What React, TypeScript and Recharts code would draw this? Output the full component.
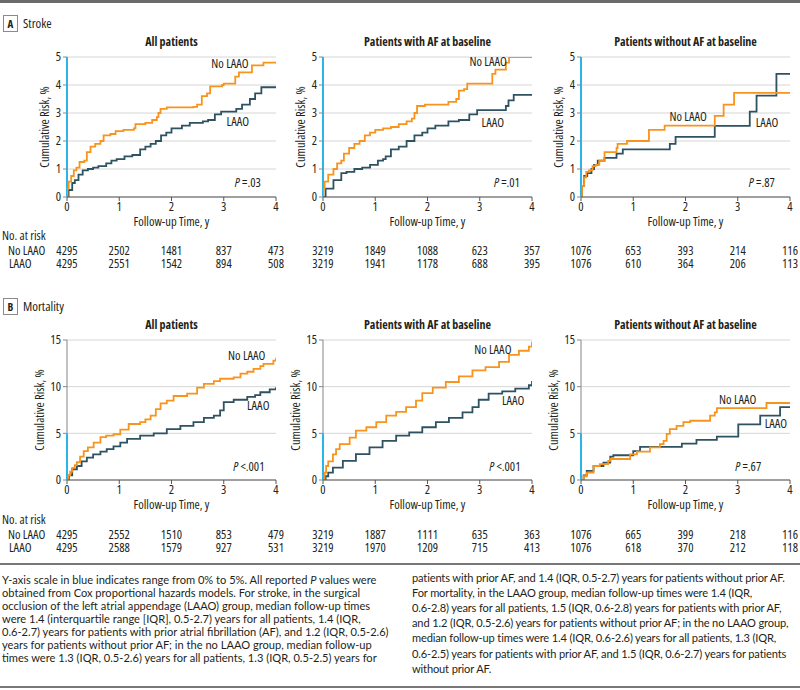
import React from "react";
import { LineChart, Line, XAxis, YAxis, CartesianGrid, ReferenceLine, ReferenceDot } from "recharts";

// ─── Colors / fonts ──────────────────────────────────────────────────────────
const ORANGE = "#f7941d"; // No LAAO
const SLATE = "#2d5261"; // LAAO
const BLUE = "#2ab4e8"; // 0-5% y-axis segment
const INK = "#231f20";
const FONT = "'Open Sans', 'DejaVu Sans Condensed', sans-serif";
const CAPTION_FONT = "Lato, 'Open Sans', sans-serif";
const FS = 12.5; // chart text size

// ─── Data (time in years, cumulative risk in %) ──────────────────────────────
type Pt = [number, number];

const xTicks = [0, 1, 2, 3, 4];
const strokeTicks = [0, 1, 2, 3, 4, 5];
const mortalityTicks = [0, 5, 10, 15];

const strokeAllNo: Pt[] = [[0, 0], [0.01, 0.3], [0.03, 0.55], [0.08, 0.75], [0.13, 0.95], [0.18, 1.05], [0.24, 1.25], [0.33, 1.3], [0.38, 1.6], [0.45, 1.8], [0.54, 1.9], [0.64, 2.0], [0.7, 2.2], [0.83, 2.25], [0.93, 2.35], [1.08, 2.4], [1.28, 2.45], [1.31, 2.6], [1.5, 2.65], [1.63, 2.75], [1.72, 2.85], [1.75, 3.0], [1.79, 3.15], [1.91, 3.2], [2.42, 3.22], [2.49, 3.3], [2.58, 3.6], [2.68, 3.7], [2.74, 3.95], [2.97, 4.0], [3.0, 4.05], [3.22, 4.3], [3.29, 4.45], [3.54, 4.7], [3.76, 4.8], [4, 4.8]];
const strokeAllLaao: Pt[] = [[0, 0], [0.03, 0.25], [0.1, 0.5], [0.15, 0.6], [0.22, 0.8], [0.3, 0.95], [0.4, 1.0], [0.5, 1.05], [0.6, 1.1], [0.75, 1.2], [0.85, 1.3], [0.95, 1.35], [1.1, 1.45], [1.25, 1.5], [1.4, 1.7], [1.5, 1.8], [1.6, 1.9], [1.7, 2.0], [1.8, 2.2], [1.9, 2.3], [2.0, 2.45], [2.2, 2.55], [2.35, 2.65], [2.6, 2.7], [2.7, 2.75], [2.83, 2.95], [2.95, 3.05], [3.24, 3.15], [3.35, 3.3], [3.5, 3.5], [3.6, 3.7], [3.72, 3.92], [4, 3.92]];

const strokeAfNo: Pt[] = [[0, 0], [0.01, 0.3], [0.03, 0.55], [0.1, 0.8], [0.2, 1.0], [0.27, 1.2], [0.35, 1.3], [0.4, 1.55], [0.5, 1.75], [0.6, 1.9], [0.7, 2.0], [0.8, 2.2], [0.9, 2.3], [1.0, 2.4], [1.15, 2.45], [1.3, 2.5], [1.45, 2.6], [1.6, 2.7], [1.7, 2.8], [1.75, 3.0], [1.8, 3.25], [1.95, 3.3], [2.4, 3.4], [2.55, 3.5], [2.6, 3.8], [2.7, 3.85], [2.76, 4.05], [3.24, 4.4], [3.3, 4.55], [3.5, 4.8], [3.56, 5.0], [4, 5.0]];
const strokeAfLaao: Pt[] = [[0, 0], [0.05, 0.3], [0.2, 0.6], [0.35, 0.85], [0.45, 0.9], [0.6, 1.0], [0.75, 1.05], [0.9, 1.15], [1.05, 1.3], [1.15, 1.35], [1.2, 1.45], [1.3, 1.7], [1.45, 1.8], [1.6, 2.0], [1.75, 2.2], [1.9, 2.3], [2.0, 2.45], [2.15, 2.55], [2.4, 2.7], [2.6, 2.75], [2.8, 2.95], [2.95, 3.1], [3.5, 3.25], [3.55, 3.45], [3.65, 3.65], [4, 3.65]];

const strokeNoAfNo: Pt[] = [[0, 0], [0.02, 0.4], [0.06, 0.7], [0.1, 0.9], [0.15, 0.95], [0.22, 1.1], [0.28, 1.15], [0.35, 1.3], [0.45, 1.6], [0.68, 1.75], [0.7, 1.9], [0.88, 2.0], [1.3, 2.4], [1.6, 2.55], [2.56, 2.9], [2.73, 3.3], [2.93, 3.72], [4, 3.72]];
const strokeNoAfLaao: Pt[] = [[0, 0], [0.02, 0.4], [0.06, 0.75], [0.12, 0.85], [0.2, 1.0], [0.25, 1.15], [0.32, 1.3], [0.45, 1.4], [0.68, 1.55], [0.8, 1.7], [1.7, 1.9], [1.81, 2.15], [2.56, 2.54], [3.23, 3.05], [3.36, 3.62], [3.74, 4.4], [4, 4.4]];

const mortAllNo: Pt[] = [[0, 0], [0.03, 0.5], [0.06, 0.9], [0.1, 1.3], [0.15, 1.6], [0.19, 1.9], [0.25, 2.5], [0.32, 3.1], [0.4, 3.5], [0.51, 4.0], [0.64, 4.6], [0.75, 4.75], [0.89, 4.9], [1.02, 5.4], [1.18, 6.0], [1.4, 6.2], [1.5, 6.5], [1.6, 6.9], [1.7, 7.6], [1.79, 8.2], [1.91, 8.5], [2.04, 9.0], [2.3, 9.25], [2.49, 9.9], [2.62, 10.3], [2.81, 10.6], [2.93, 10.85], [3.19, 11.0], [3.32, 11.4], [3.45, 11.6], [3.57, 11.9], [3.7, 12.2], [3.76, 12.45], [3.95, 12.8], [4.0, 13.1]];
const mortAllLaao: Pt[] = [[0, 0], [0.04, 0.5], [0.1, 1.15], [0.19, 1.5], [0.28, 2.0], [0.38, 2.4], [0.5, 2.75], [0.64, 3.05], [0.76, 3.3], [0.89, 3.6], [1.02, 4.0], [1.15, 4.4], [1.4, 4.75], [1.66, 5.0], [1.91, 5.45], [2.17, 5.8], [2.42, 6.2], [2.62, 6.65], [2.81, 6.9], [2.93, 7.45], [3.0, 8.35], [3.19, 8.6], [3.45, 8.9], [3.6, 9.1], [3.7, 9.4], [3.88, 9.7], [4.0, 9.95]];

const mortAfNo: Pt[] = [[0, 0], [0.03, 0.8], [0.06, 1.5], [0.1, 2.0], [0.19, 2.75], [0.25, 3.3], [0.32, 3.85], [0.51, 4.55], [0.63, 5.3], [0.83, 5.65], [1.02, 6.2], [1.21, 6.9], [1.4, 7.3], [1.59, 7.8], [1.78, 8.5], [1.9, 9.3], [2.1, 9.9], [2.35, 10.5], [2.6, 11.1], [2.86, 11.75], [3.11, 12.1], [3.37, 12.65], [3.56, 13.4], [3.75, 13.85], [3.94, 14.3], [4.0, 14.8]];
const mortAfLaao: Pt[] = [[0, 0], [0.05, 0.4], [0.1, 0.8], [0.19, 1.33], [0.38, 2.05], [0.63, 2.77], [0.89, 3.5], [1.14, 4.2], [1.4, 4.75], [1.65, 5.1], [1.9, 5.65], [2.16, 6.2], [2.41, 6.65], [2.67, 7.25], [2.86, 7.8], [2.98, 8.6], [3.17, 9.25], [3.43, 9.5], [3.68, 9.8], [3.94, 10.15], [4.0, 10.6]];

const mortNoAfNo: Pt[] = [[0, 0], [0.05, 0.4], [0.11, 0.8], [0.24, 1.5], [0.36, 1.7], [0.52, 2.05], [0.56, 2.25], [0.94, 2.75], [1.07, 3.05], [1.32, 3.5], [1.51, 3.85], [1.58, 4.2], [1.64, 4.95], [1.7, 5.45], [1.83, 5.8], [1.96, 6.2], [2.09, 6.35], [2.47, 6.9], [2.56, 7.25], [2.6, 7.7], [3.55, 8.25], [4, 8.25]];
const mortNoAfLaao: Pt[] = [[0, 0], [0.05, 0.5], [0.11, 0.97], [0.24, 1.5], [0.43, 1.87], [0.56, 2.5], [0.62, 2.65], [1.0, 3.1], [1.13, 3.55], [1.93, 3.9], [2.21, 4.3], [2.6, 4.65], [3.01, 5.95], [3.43, 6.9], [3.81, 7.8], [4, 7.8]];

// No. at risk (No LAAO row, LAAO row) at years 0..4
const riskStrokeAll = [[4295, 2502, 1481, 837, 473], [4295, 2551, 1542, 894, 508]];
const riskStrokeAf = [[3219, 1849, 1088, 623, 357], [3219, 1941, 1178, 688, 395]];
const riskStrokeNoAf = [[1076, 653, 393, 214, 116], [1076, 610, 364, 206, 113]];
const riskMortAll = [[4295, 2552, 1510, 853, 479], [4295, 2588, 1579, 927, 531]];
const riskMortAf = [[3219, 1887, 1111, 635, 363], [3219, 1970, 1209, 715, 413]];
const riskMortNoAf = [[1076, 665, 399, 218, 116], [1076, 618, 370, 212, 118]];

const titles = ["All patients", "Patients with AF at baseline", "Patients without AF at baseline"];
const strokeP = ["=.03", "=.01", "=.87"];
const mortP = ["<.001", "<.001", "=.67"];

// label anchors in data units [x, y]
const strokeNoLabel: Pt[] = [[3.12, 4.75], [3.16, 4.82], [2.05, 2.86]];
const strokeLaaoLabel: Pt[] = [[3.27, 2.68], [3.25, 2.64], [3.56, 2.64]];
const strokePPos: Pt[] = [[3.46, 0.5], [3.52, 0.5], [3.46, 0.5]];
const mortNoLabel: Pt[] = [[3.44, 13.3], [3.25, 14.0], [3.0, 8.6]];
const mortLaaoLabel: Pt[] = [[3.66, 8.0], [3.64, 8.5], [3.73, 6.0]];
const mortPPos: Pt[] = [[3.48, 1.4], [3.48, 1.4], [3.2, 1.4]];

const captionLeft = [
  "Y-axis scale in blue indicates range from 0% to 5%. All reported P values were",
  "obtained from Cox proportional hazards models. For stroke, in the surgical",
  "occlusion of the left atrial appendage (LAAO) group, median follow-up times",
  "were 1.4 (interquartile range [IQR], 0.5-2.7) years for all patients, 1.4 (IQR,",
  "0.6-2.7) years for patients with prior atrial fibrillation (AF), and 1.2 (IQR, 0.5-2.6)",
  "years for patients without prior AF; in the no LAAO group, median follow-up",
  "times were 1.3 (IQR, 0.5-2.6) years for all patients, 1.3 (IQR, 0.5-2.5) years for",
];
const captionRight = [
  "patients with prior AF, and 1.4 (IQR, 0.5-2.7) years for patients without prior AF.",
  "For mortality, in the LAAO group, median follow-up times were 1.4 (IQR,",
  "0.6-2.8) years for all patients, 1.5 (IQR, 0.6-2.8) years for patients with prior AF,",
  "and 1.2 (IQR, 0.5-2.6) years for patients without prior AF; in the no LAAO group,",
  "median follow-up times were 1.4 (IQR, 0.6-2.6) years for all patients, 1.3 (IQR,",
  "0.6-2.5) years for patients with prior AF, and 1.5 (IQR, 0.6-2.7) years for patients",
  "without prior AF.",
];

// ─── Layout ──────────────────────────────────────────────────────────────────
const PLOT_W = 209;
const PLOT_H = 140;
const Y_AXIS_W = 47;
const PANEL_X = [67, 323, 581];

const toRows = (pts: Pt[]) => pts.map(([t, v]) => ({ t, v }));

interface KMProps {
  left: number;
  top: number;
  title: string;
  ymax: number;
  yTicks: number[];
  noLaao: Pt[];
  laao: Pt[];
  noLabel: Pt;
  laaoLabel: Pt;
  pPos: Pt;
  pText: string;
  yLabelOffset: number;
}

function KMPanel({ left, top, title, ymax, yTicks, noLaao, laao, noLabel, laaoLabel, pPos, pText, yLabelOffset }: KMProps) {
  const mTop = 10;
  const xAxisH = 35;
  const textLabel = (value: string) => (props: any) => {
    const vb = props.viewBox || {};
    return (
      <text x={vb.x + (vb.width || 0) / 2} y={vb.y + (vb.height || 0) / 2} dy="0.35em" textAnchor="middle" fontSize={FS} fill={INK}>
        {value}
      </text>
    );
  };
  return (
    <>
      <div style={{ position: "absolute", left: left - 20, top: top - 22, width: PLOT_W + 40, textAlign: "center", fontWeight: "bold", fontSize: 12, lineHeight: "14px", color: INK, whiteSpace: "nowrap" }}>
        {title}
      </div>
      <div style={{ position: "absolute", left: left - Y_AXIS_W, top: top - mTop }}>
        <LineChart width={Y_AXIS_W + PLOT_W + 10} height={mTop + PLOT_H + xAxisH} margin={{ top: mTop, right: 10, left: 0, bottom: 0 }}>
          <CartesianGrid horizontal vertical={false} stroke="#d6d6d6" />
          <XAxis
            dataKey="t"
            type="number"
            domain={[0, 4]}
            ticks={xTicks}
            height={xAxisH}
            tickSize={4}
            tickMargin={1}
            stroke="#555"
            tick={{ fontSize: FS, fill: INK }}
            allowDataOverflow
            label={(props: any) => {
              const vb = props.viewBox;
              return (
                <text x={vb.x + vb.width / 2} y={vb.y + 29} textAnchor="middle" fontSize={FS} fill={INK}>
                  Follow-up Time, y
                </text>
              );
            }}
          />
          <YAxis
            type="number"
            domain={[0, ymax]}
            ticks={yTicks}
            width={Y_AXIS_W}
            axisLine={false}
            tickSize={4}
            tickMargin={2}
            stroke="#888"
            tick={{ fontSize: FS, fill: INK }}
            allowDataOverflow
            label={(props: any) => {
              const vb = props.viewBox;
              const x = vb.x + vb.width - yLabelOffset;
              const y = vb.y + vb.height / 2;
              return (
                <text x={x} y={y} transform={`rotate(-90 ${x} ${y})`} textAnchor="middle" dy="0.35em" fontSize={FS} fill={INK}>
                  Cumulative Risk, %
                </text>
              );
            }}
          />
          {ymax > 5 && (
            <ReferenceLine segment={[{ x: 0, y: 5 }, { x: 0, y: ymax }]} stroke="#999" strokeWidth={1.2} ifOverflow="visible" />
          )}
          <ReferenceLine segment={[{ x: 0, y: 0 }, { x: 0, y: 5 }]} stroke={BLUE} strokeWidth={2} ifOverflow="visible" />
          <Line data={toRows(laao)} dataKey="v" type="stepAfter" stroke={SLATE} strokeWidth={1.8} dot={false} isAnimationActive={false} />
          <Line data={toRows(noLaao)} dataKey="v" type="stepAfter" stroke={ORANGE} strokeWidth={1.8} dot={false} isAnimationActive={false} />
          <ReferenceDot x={noLabel[0]} y={noLabel[1]} r={0} stroke="none" fill="none" label={textLabel("No LAAO")} />
          <ReferenceDot x={laaoLabel[0]} y={laaoLabel[1]} r={0} stroke="none" fill="none" label={textLabel("LAAO")} />
          <ReferenceDot
            x={pPos[0]}
            y={pPos[1]}
            r={0}
            stroke="none"
            fill="none"
            label={(props: any) => {
              const vb = props.viewBox || {};
              return (
                <text x={vb.x + (vb.width || 0) / 2} y={vb.y + (vb.height || 0) / 2} dy="0.35em" textAnchor="middle" fontSize={FS} fill={INK}>
                  <tspan fontStyle="italic">P</tspan> {pText}
                </text>
              );
            }}
          />
        </LineChart>
      </div>
    </>
  );
}

function RiskTable({ top, rows }: { top: number; rows: number[][][] }) {
  const cell: React.CSSProperties = { position: "absolute", fontSize: FS, lineHeight: "11px", color: INK, whiteSpace: "nowrap" };
  return (
    <>
      <div style={{ ...cell, left: 2, top: top - 5.5 }}>No. at risk</div>
      <div style={{ ...cell, left: 8, top: top + 10 }}>No LAAO</div>
      <div style={{ ...cell, left: 9, top: top + 23 }}>LAAO</div>
      {rows.map((panel, pi) =>
        panel.map((row, ri) =>
          row.map((n, k) => (
            <div
              key={`${pi}-${ri}-${k}`}
              style={{ ...cell, left: PANEL_X[pi] + (k * PLOT_W) / 4, top: top + 10 + ri * 13, transform: "translateX(-50%)" }}
            >
              {n}
            </div>
          ))
        )
      )}
    </>
  );
}

function SectionLabel({ top, letter, text }: { top: number; letter: string; text: string }) {
  return (
    <>
      <div style={{ position: "absolute", left: 3, top, width: 13, height: 15, border: "1px solid #8a8a8a", fontWeight: "bold", fontSize: 11, lineHeight: "15px", textAlign: "center", color: INK }}>
        {letter}
      </div>
      <div style={{ position: "absolute", left: 23, top: top + 0.5, fontSize: 13, lineHeight: "15px", color: INK }}>{text}</div>
    </>
  );
}

export default function App() {
  const strokeNo = [strokeAllNo, strokeAfNo, strokeNoAfNo];
  const strokeLa = [strokeAllLaao, strokeAfLaao, strokeNoAfLaao];
  const mortNo = [mortAllNo, mortAfNo, mortNoAfNo];
  const mortLa = [mortAllLaao, mortAfLaao, mortNoAfLaao];

  return (
    <div style={{ position: "absolute", left: 0, top: 0, width: 800, height: 690, background: "#fff", overflow: "hidden", fontFamily: FONT, fontStretch: "condensed", color: INK }}>
      <div style={{ position: "absolute", left: 0, top: 0, width: 800, height: 3, background: "#6b6b6b" }} />

      <SectionLabel top={15} letter="A" text="Stroke" />
      {PANEL_X.map((x, i) => (
        <KMPanel
          key={`s${i}`}
          left={x}
          top={57}
          title={titles[i]}
          ymax={5}
          yTicks={strokeTicks}
          noLaao={strokeNo[i]}
          laao={strokeLa[i]}
          noLabel={strokeNoLabel[i]}
          laaoLabel={strokeLaaoLabel[i]}
          pPos={strokePPos[i]}
          pText={strokeP[i]}
          yLabelOffset={22}
        />
      ))}
      <RiskTable top={235} rows={[riskStrokeAll, riskStrokeAf, riskStrokeNoAf]} />

      <SectionLabel top={298} letter="B" text="Mortality" />
      {PANEL_X.map((x, i) => (
        <KMPanel
          key={`m${i}`}
          left={x}
          top={340}
          title={titles[i]}
          ymax={15}
          yTicks={mortalityTicks}
          noLaao={mortNo[i]}
          laao={mortLa[i]}
          noLabel={mortNoLabel[i]}
          laaoLabel={mortLaaoLabel[i]}
          pPos={mortPPos[i]}
          pText={mortP[i]}
          yLabelOffset={27}
        />
      ))}
      <RiskTable top={519} rows={[riskMortAll, riskMortAf, riskMortNoAf]} />

      <div style={{ position: "absolute", left: 0, top: 563, width: 800, height: 2, background: "#777" }} />

      <div style={{ position: "absolute", left: 2, top: 572.5, fontFamily: CAPTION_FONT, fontStretch: "normal", fontSize: 11.1, lineHeight: "13px", color: INK }}>
        {captionLeft.map((line, i) => (
          <div key={i} style={{ whiteSpace: "nowrap" }}>
            {i === 0 ? (
              <>
                Y-axis scale in blue indicates range from 0% to 5%. All reported <i>P</i> values were
              </>
            ) : (
              line
            )}
          </div>
        ))}
      </div>
      <div style={{ position: "absolute", left: 412, top: 569.5, fontFamily: CAPTION_FONT, fontStretch: "normal", fontSize: 11.1, lineHeight: "15.2px", letterSpacing: -0.15, color: INK }}>
        {captionRight.map((line, i) => (
          <div key={i} style={{ whiteSpace: "nowrap" }}>
            {line}
          </div>
        ))}
      </div>

      <div style={{ position: "absolute", left: 0, top: 686, width: 800, height: 2, background: "#777" }} />
    </div>
  );
}
